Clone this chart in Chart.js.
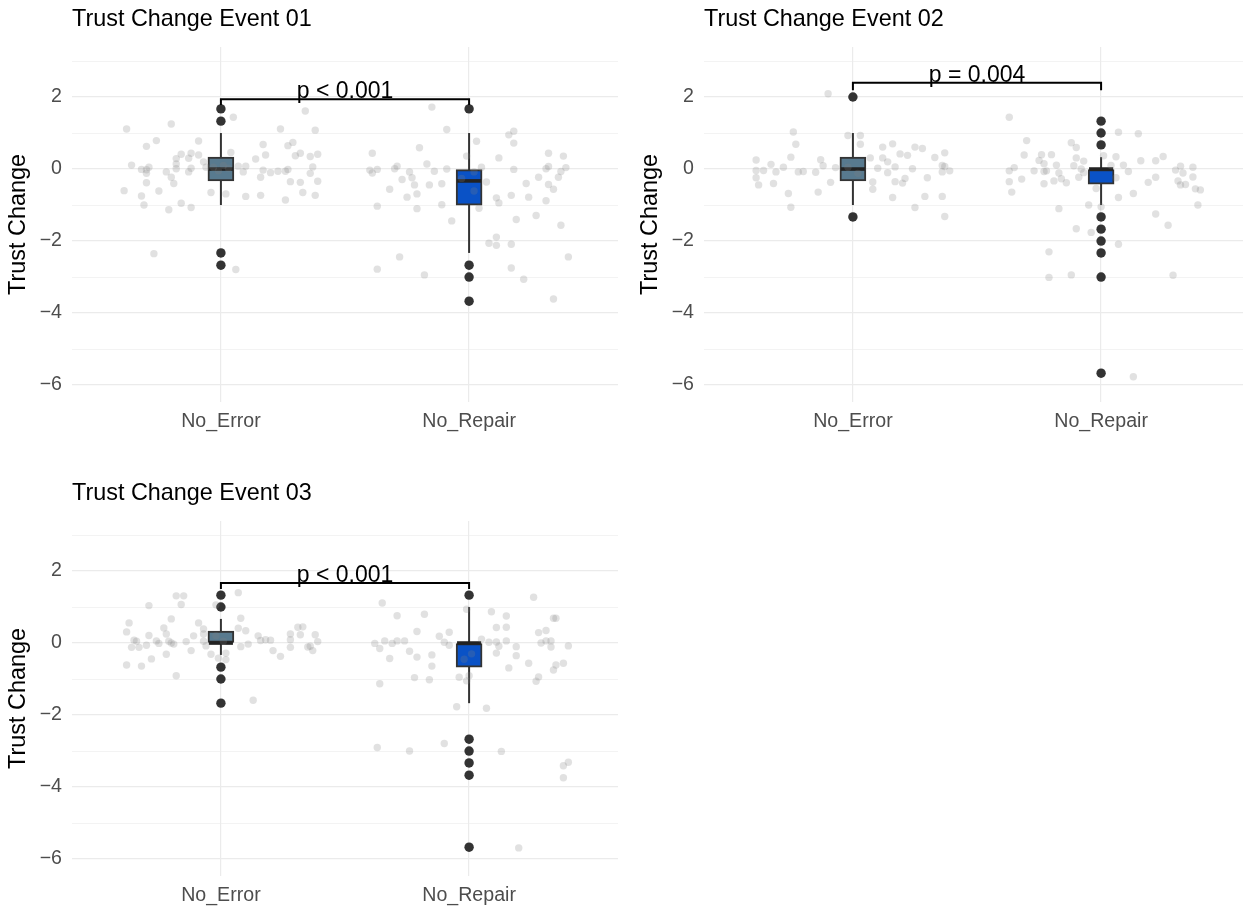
<!DOCTYPE html>
<html>
<head>
<meta charset="utf-8">
<title>Trust Change Events</title>
<script src="https://cdn.jsdelivr.net/npm/chart.js"></script>
<style>
	body { margin: 0; background: #fff; }
	#wrap { position: relative; width: 1243px; height: 907px; overflow: hidden; background: #fff; }
	canvas { position: absolute; }
</style>
</head>
<body>
<div id="wrap">
	<canvas id="c1" width="625" height="450" style="left:0px;top:0px"></canvas>
	<canvas id="c2" width="625" height="450" style="left:632px;top:0px"></canvas>
	<canvas id="c3" width="625" height="450" style="left:0px;top:474px"></canvas>
</div>
<script>
// categories and labels
var categories = ['No_Error', 'No_Repair'];
var panelTitles = ['Trust Change Event 01', 'Trust Change Event 02', 'Trust Change Event 03'];
var pLabels = ['p < 0.001', 'p = 0.004', 'p < 0.001'];
var bracketTop = [1.94, 2.40, 1.67];
var bracketLeg = [1.78, 2.19, 1.50];
var yTicks = [2, 0, -2, -4, -6];
var boxColors = ['#587a8f', '#0a52c6'];

// box stats: [lower whisker, q1, median, q3, upper whisker]
var boxE1 = [[-1, -0.33, 0, 0.33, 1], [-2.33, -1, -0.33, 0, 1]];
var boxE2 = [[-1, -0.33, 0, 0.33, 1], [-1, -0.42, 0, 0, 0.33]];
var boxE3 = [[-0.33, 0, 0, 0.33, 0.67], [-1.67, -0.67, 0, 0, 1]];

// outliers per category
var outE1 = [[1.67, 1.33, -2.33, -2.67], [1.67, -2.67, -3, -3.67]];
var outE2 = [[2, -1.33], [1.33, 1, 0.67, -1.33, -1.67, -2, -2.33, -3, -5.67]];
var outE3 = [[1.33, 1, -0.67, -1, -1.67], [1.33, -2.67, -3, -3.33, -3.67, -5.67]];

// jittered raw points [x, y]
var jitE1a = [[0.62,1.11],[0.80,1.25],[1.05,1.44],[1.34,1.61],[1.24,1.11],[1.38,1.08],[0.74,0.79],[0.70,0.63],[0.91,0.78],[1.17,0.68],[1.29,0.74],[1.27,0.65],[0.84,0.41],[0.88,0.44],[0.82,0.29],[0.87,0.30],[0.91,0.39],[1.04,0.46],[1.18,0.39],[1.14,0.28],[1.32,0.44],[1.30,0.37],[1.36,0.35],[1.39,0.41],[0.64,0.11],[0.68,-0.01],[0.70,-0.02],[0.71,0.05],[0.70,-0.12],[0.78,-0.08],[0.82,0.01],[0.82,0.14],[0.87,-0.08],[0.88,0.02],[0.93,0.20],[0.94,0.05],[1.07,0.08],[1.10,0.08],[1.09,-0.08],[1.17,-0.03],[1.20,-0.10],[1.23,-0.06],[1.26,-0.06],[1.27,-0.01],[1.37,0.06],[1.36,-0.12],[0.80,-0.23],[0.81,-0.40],[0.70,-0.38],[0.61,-0.60],[0.75,-0.61],[0.68,-0.75],[0.69,-1.00],[0.79,-1.13],[0.84,-0.95],[0.88,-1.07],[0.96,-0.65],[1.02,-0.69],[1.16,-0.23],[1.10,-0.76],[1.16,-0.73],[1.28,-0.35],[1.32,-0.37],[1.33,-0.65],[1.39,-0.34],[1.38,-0.73],[1.26,-0.86],[0.73,-2.35],[1.06,-2.79],[0.97,0.05],[1.01,0.10],[0.99,-0.05],[1.03,0.02]];
var jitE1b = [[1.85,1.72],[1.91,1.10],[1.61,0.44],[1.80,0.59],[1.60,-0.03],[1.63,-0.01],[1.61,-0.11],[1.70,0.01],[1.71,0.08],[1.76,-0.08],[1.83,0.14],[1.86,-0.06],[1.91,0.00],[1.73,-0.29],[1.77,-0.24],[1.78,-0.44],[1.68,-0.56],[1.75,-0.78],[1.79,-0.69],[1.84,-0.44],[1.89,-0.41],[1.63,-1.03],[1.79,-1.10],[1.89,-0.99],[1.93,-1.44],[1.72,-2.44],[1.63,-2.78],[1.82,-2.94],[1.99,0.36],[2.03,0.77],[2.02,-0.08],[2.05,0.05],[2.07,-0.36],[2.02,-0.61],[1.97,-0.26],[2.04,-1.09],[2.16,0.95],[2.18,1.05],[2.18,0.72],[2.12,0.31],[2.18,-0.01],[2.11,-0.80],[2.12,-0.94],[2.17,-0.73],[2.23,-0.40],[2.24,-0.78],[2.19,-1.40],[2.27,-1.29],[2.11,-1.89],[2.08,-2.06],[2.11,-2.12],[2.17,-2.09],[2.17,-2.75],[2.22,-3.06],[2.34,-3.61],[2.32,0.44],[2.38,0.36],[2.31,0.01],[2.32,0.07],[2.39,0.04],[2.28,-0.23],[2.32,-0.43],[2.34,-0.56],[2.37,-0.07],[2.31,-0.88],[2.37,-1.56],[2.40,-2.44],[2.36,-0.23]];
var jitE2a = [[0.90,2.09],[0.76,1.03],[0.77,0.69],[0.75,0.33],[0.61,0.25],[0.67,0.13],[0.61,-0.04],[0.64,-0.04],[0.61,-0.24],[0.62,-0.44],[0.68,-0.40],[0.69,-0.08],[0.72,0.05],[0.78,-0.08],[0.80,-0.07],[0.74,-0.68],[0.75,-1.06],[0.85,-0.09],[0.87,0.26],[0.88,0.09],[0.86,-0.64],[0.91,-0.37],[0.93,0.04],[0.98,0.93],[1.03,0.93],[1.03,0.69],[1.07,0.31],[1.10,0.02],[1.08,-0.36],[1.08,-0.56],[1.12,0.31],[1.12,0.61],[1.16,0.70],[1.14,0.20],[1.14,-0.10],[1.17,0.06],[1.19,0.42],[1.22,0.38],[1.17,-0.35],[1.20,-0.39],[1.21,-0.26],[1.16,-0.79],[1.24,0.01],[1.25,0.61],[1.28,0.57],[1.30,-0.24],[1.29,-0.76],[1.25,-1.07],[1.33,0.32],[1.37,0.45],[1.36,0.10],[1.37,0.07],[1.36,-0.08],[1.39,-0.05],[1.36,-0.76],[1.37,-1.32],[0.98,0.05],[1.02,-0.12]];
var jitE2b = [[1.63,1.44],[1.70,0.79],[1.69,0.39],[1.63,-0.05],[1.65,0.04],[1.63,-0.35],[1.68,-0.28],[1.64,-0.64],[1.73,-0.05],[1.75,0.24],[1.76,0.40],[1.77,0.15],[1.77,-0.07],[1.80,0.40],[1.78,-0.05],[1.77,-0.41],[1.81,-0.33],[1.82,0.11],[1.83,-0.11],[1.84,-0.27],[1.86,-0.38],[1.88,0.73],[1.90,0.60],[1.90,0.31],[1.89,0.09],[1.93,0.22],[1.92,0.00],[1.93,-0.10],[1.91,-0.23],[1.83,-1.10],[1.95,-1.00],[1.90,-1.66],[1.96,-1.76],[1.79,-2.30],[1.79,-3.01],[1.88,-2.94],[1.98,-0.54],[2.00,-1.05],[2.01,0.37],[2.06,0.34],[2.07,1.02],[2.15,0.98],[2.04,0.10],[2.09,0.11],[2.11,-0.07],[2.06,-0.24],[2.16,0.23],[2.19,-0.37],[2.22,-0.23],[2.22,0.23],[2.25,0.35],[2.07,-0.79],[2.13,-0.68],[2.22,-1.25],[2.27,-1.56],[2.07,-2.09],[2.29,-2.95],[2.13,-5.77],[2.30,-0.03],[2.32,0.08],[2.33,-0.11],[2.37,0.05],[2.37,-0.22],[2.31,-0.33],[2.32,-0.44],[2.34,-0.43],[2.38,-0.55],[2.40,-0.58],[2.39,-1.00]];
var jitE3a = [[0.71,1.04],[0.82,1.31],[0.85,1.31],[0.84,1.07],[1.07,1.40],[0.98,1.06],[0.63,0.56],[0.62,0.31],[0.80,0.67],[0.77,0.42],[0.78,0.25],[0.71,0.21],[0.65,0.08],[0.66,0.05],[0.64,-0.12],[0.67,-0.12],[0.70,-0.06],[0.74,0.06],[0.75,-0.01],[0.79,0.05],[0.80,0.00],[0.81,-0.03],[0.86,0.04],[0.89,0.20],[0.91,0.56],[0.93,0.39],[0.93,0.25],[0.93,0.05],[0.94,-0.08],[0.88,-0.21],[0.78,-0.31],[0.72,-0.44],[0.68,-0.64],[0.62,-0.61],[0.82,-0.91],[0.96,-0.31],[0.99,-0.42],[1.02,-0.46],[1.02,-0.28],[1.08,0.69],[1.07,0.41],[1.10,0.34],[1.08,-0.10],[1.11,-0.03],[1.15,0.20],[1.16,0.07],[1.18,0.09],[1.20,0.08],[1.21,-0.21],[1.24,-0.37],[1.28,0.25],[1.28,0.09],[1.28,-0.12],[1.31,0.44],[1.33,0.45],[1.32,0.23],[1.35,-0.11],[1.36,-0.09],[1.37,-0.21],[1.38,0.23],[1.39,0.04],[1.13,-1.59],[0.98,0.20],[1.01,0.05]];
var jitE3b = [[1.65,1.11],[1.71,0.76],[1.82,0.80],[1.79,0.32],[1.62,-0.01],[1.64,-0.15],[1.66,0.06],[1.69,-0.01],[1.71,0.06],[1.74,0.06],[1.68,-0.43],[1.76,-0.23],[1.79,-0.39],[1.85,-0.33],[1.85,-0.64],[1.78,-0.96],[1.84,-1.02],[1.64,-1.13],[1.88,0.19],[1.90,0.02],[1.92,0.30],[1.92,-0.06],[1.96,-0.95],[1.99,-1.05],[2.00,-0.91],[1.95,-1.77],[2.07,-1.81],[1.99,0.94],[2.09,0.87],[2.15,0.75],[2.11,0.43],[2.15,0.44],[2.05,0.11],[2.08,0.02],[2.11,0.03],[2.12,-0.09],[2.11,-0.28],[2.15,0.06],[2.19,-0.10],[2.19,-0.35],[2.16,-0.69],[2.24,-0.56],[2.26,1.27],[2.28,0.29],[2.31,0.35],[2.29,0.00],[2.31,0.06],[2.33,0.06],[2.33,-0.11],[2.34,0.69],[2.35,0.69],[2.40,-0.08],[2.38,-0.56],[2.35,-0.61],[2.34,-0.75],[2.28,-0.94],[2.27,-1.06],[1.63,-2.90],[1.76,-3.00],[1.90,-2.79],[2.13,-3.01],[2.38,-3.41],[2.40,-3.31],[2.38,-3.74],[2.20,-5.69],[1.98,-0.45],[2.01,-0.30]];

var FONT = "'Liberation Sans', Arial, sans-serif";
var BOX_HALF = 0.0525;

function toPts(arr) {
	return arr.map(function(p){ return {x: p[0], y: p[1]}; });
}

// draws the p value over the bracket
var pTextPlugin = {
	id: 'pText',
	afterDatasetsDraw: function(chart, args, opts) {
		var ctx = chart.ctx;
		var x = chart.scales.x.getPixelForValue(1.5);
		var y = chart.scales.y.getPixelForValue(opts.y);
		ctx.save();
		ctx.font = '23px ' + FONT;
		ctx.fillStyle = '#000';
		ctx.textAlign = 'center';
		ctx.textBaseline = 'alphabetic';
		ctx.fillText(opts.text, x, y - 1);
		ctx.restore();
	}
};

function makePanel(id, n, boxes, outs, jitA, jitB) {
	var datasets = [];
	// bracket
	datasets.push({
		type: 'scatter', showLine: true, order: 0,
		data: [{x:1,y:bracketLeg[n]},{x:1,y:bracketTop[n]},{x:2,y:bracketTop[n]},{x:2,y:bracketLeg[n]}],
		borderColor: '#000', borderWidth: 2, pointRadius: 0
	});
	// raw jittered points
	datasets.push({
		type: 'scatter', order: 1,
		data: toPts(jitA.concat(jitB)),
		backgroundColor: 'rgba(128,128,128,0.24)', borderWidth: 0, pointRadius: 3.7
	});
	for (var c = 0; c < 2; c++) {
		var b = boxes[c];
		var cx = c + 1;
		datasets.push({
			type: 'scatter', order: 2,
			data: outs[c].map(function(v){ return {x: cx, y: v}; }),
			backgroundColor: '#333333', borderWidth: 0, pointRadius: 4.7
		});
		datasets.push({
			type: 'scatter', showLine: true, order: 3,
			data: [{x: cx - BOX_HALF + 0.004, y: b[2]}, {x: cx + BOX_HALF - 0.004, y: b[2]}],
			borderColor: '#222222', borderWidth: 3.6, pointRadius: 0
		});
		datasets.push({
			type: 'scatter', showLine: true, order: 5,
			data: [{x: cx, y: b[0]}, {x: cx, y: b[4]}],
			borderColor: '#333333', borderWidth: 2, pointRadius: 0
		});
	}
	datasets.push({
		type: 'bar', order: 4,
		data: [{x: 1, y: [boxes[0][1], boxes[0][3]]}, {x: 2, y: [boxes[1][1], boxes[1][3]]}],
		backgroundColor: boxColors, borderColor: '#333333', borderWidth: 2,
		borderSkipped: false, barThickness: 26
	});

	return new Chart(document.getElementById(id), {
		type: 'scatter',
		data: { datasets: datasets },
		plugins: [pTextPlugin],
		options: {
			responsive: false,
			animation: false,
			devicePixelRatio: 1,
			layout: { padding: { left: 0, right: 7, top: 0, bottom: 0 } },
			plugins: {
				legend: { display: false },
				tooltip: { enabled: false },
				title: {
					display: true, text: panelTitles[n], align: 'start', fullSize: false,
					color: '#000', font: { family: FONT, size: 23.4, weight: 'normal', lineHeight: 1.2 },
					padding: { top: 6, bottom: 12.9 }
				},
				pText: { text: pLabels[n], y: bracketTop[n] }
			},
			scales: {
				x: {
					type: 'linear', min: 0.4, max: 2.6, offset: false,
					afterBuildTicks: function(s){ s.ticks = [{value: 1}, {value: 2}]; },
					afterFit: function(s){ s.height = 48; },
					ticks: {
						color: '#4d4d4d', padding: 8, font: { family: FONT, size: 19.6 },
						callback: function(v){ return categories[v - 1]; }
					},
					grid: { color: '#ebebeb', lineWidth: 1.2, drawTicks: false, offset: false },
					border: { display: false }
				},
				y: {
					min: -6.47, max: 3.39,
					afterFit: function(s){ s.width = 72; },
					ticks: {
						stepSize: 1, includeBounds: false, color: '#4d4d4d', padding: 10,
						font: { family: FONT, size: 19.6 },
						callback: function(v){
							if (yTicks.indexOf(v) < 0) return '';
							return v < 0 ? '\u2212' + Math.abs(v) : '' + v;
						}
					},
					grid: {
						color: '#ebebeb', drawTicks: false,
						lineWidth: function(ctx){ return ctx.tick && yTicks.indexOf(ctx.tick.value) >= 0 ? 1.2 : 0.6; }
					},
					border: { display: false },
					title: {
						display: true, text: 'Trust Change', color: '#000',
						font: { family: FONT, size: 23.4 }, padding: { top: 5, bottom: 0 }
					}
				}
			}
		}
	});
}

makePanel('c1', 0, boxE1, outE1, jitE1a, jitE1b);
makePanel('c2', 1, boxE2, outE2, jitE2a, jitE2b);
makePanel('c3', 2, boxE3, outE3, jitE3a, jitE3b);
</script>
</body>
</html>
